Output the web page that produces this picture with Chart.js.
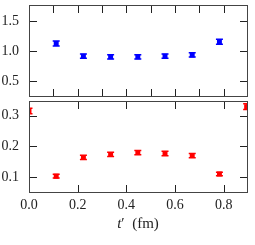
<!DOCTYPE html>
<html>
<head>
<meta charset="utf-8">
<script src="https://cdn.jsdelivr.net/npm/chart.js@4"></script>
<style>
  body { margin: 0; background: #fff; }
  #wrap { position: relative; width: 255px; height: 245px; }
  canvas { position: absolute; left: 0; }
  #xlabel { position: absolute; left: 0; width: 276px; top: 215px; text-align: center;
            font: 15px "Liberation Serif", serif; color: #222; }
</style>
</head>
<body>
<div id="wrap">
  <canvas id="topChart" width="255" height="100" style="top:0"></canvas>
  <canvas id="botChart" width="255" height="123" style="top:97px"></canvas>
  <div id="xlabel"><i>t</i>′&nbsp;&nbsp;(fm)</div>
</div>
<script>
// t' values (fm) for each time slice
var tPrime = [0, 0.1118, 0.2236, 0.3354, 0.4472, 0.559, 0.6708, 0.7826, 0.8944];

var topValues = [null, 1.13, 0.92, 0.91, 0.91, 0.92, 0.94, 1.16, null];
var topErrors = [null, 0.04, 0.035, 0.035, 0.035, 0.035, 0.035, 0.04, null];

var botValues = [0.316, 0.103, 0.164, 0.174, 0.18, 0.177, 0.17, 0.11, 0.33];
var botErrors = [0.009, 0.006, 0.007, 0.007, 0.007, 0.007, 0.007, 0.006, 0.009];

var topXTicks = [0.1, 0.2, 0.3, 0.4, 0.5, 0.6, 0.7, 0.8];
var topYTicks = [0.5, 1.0, 1.5];
var botXTicks = [0.0, 0.2, 0.4, 0.6, 0.8];
var botYTicks = [0.1, 0.2, 0.3];

var font = { family: "Liberation Serif", size: 14 };

function toPoints(values) {
    return tPrime.map((t, i) => ({ x: t, y: values[i] })).filter(p => p.y !== null);
}

// error bars, then box frame with inward ticks, drawn from the chart scales
function framePlugin(xTickVals, yTickVals) {
    var xt = xTickVals.slice(), yt = yTickVals.slice();
    return {
        id: "frame",
        afterDatasetsDraw: (chart) => {
            var ctx = chart.ctx;
            var a = chart.chartArea;
            var xs = chart.scales.x, ys = chart.scales.y;
            ctx.save();
            ctx.beginPath();
            ctx.rect(a.left, a.top, a.right - a.left, a.bottom - a.top);
            ctx.clip();
            chart.data.datasets.forEach((ds) => {
                ctx.strokeStyle = ds.backgroundColor;
                ctx.lineWidth = 1.5;
                ds.data.forEach((p, i) => {
                    var err = ds.errors[i];
                    var px = xs.getPixelForValue(p.x);
                    var y1 = ys.getPixelForValue(p.y - err);
                    var y2 = ys.getPixelForValue(p.y + err);
                    ctx.beginPath();
                    ctx.moveTo(px, y1); ctx.lineTo(px, y2);
                    ctx.moveTo(px - 3.5, y1); ctx.lineTo(px + 3.5, y1);
                    ctx.moveTo(px - 3.5, y2); ctx.lineTo(px + 3.5, y2);
                    ctx.stroke();
                });
            });
            ctx.restore();
        },
        afterDraw: (chart) => {
            var ctx = chart.ctx;
            var a = chart.chartArea;
            var xs = chart.scales.x, ys = chart.scales.y;
            var len = 8;
            var L = Math.round(a.left), T = Math.round(a.top);
            var R = Math.round(a.right), B = Math.round(a.bottom);
            ctx.save();
            ctx.fillStyle = "#222";
            for (var i = 0; i < xt.length; i++) {
                var px = Math.round(xs.getPixelForValue(Number(xt[i])));
                ctx.fillRect(px, T, 1, len);
                ctx.fillRect(px, B - len, 1, len);
            }
            for (var j = 0; j < yt.length; j++) {
                var py = Math.round(ys.getPixelForValue(Number(yt[j])));
                ctx.fillRect(L, py, len, 1);
                ctx.fillRect(R - len, py, len, 1);
            }
            ctx.fillStyle = "#444";
            ctx.fillRect(L, T, R - L, 1);
            ctx.fillRect(L, B - 1, R - L, 1);
            ctx.fillRect(L, T, 1, B - T);
            ctx.fillRect(R - 1, T, 1, B - T);
            ctx.restore();
        }
    };
}

function makeChart(id, values, errors, color, yMin, yMax, xTicks, yTicks, showX, pad, xHeight) {
    return new Chart(document.getElementById(id), {
        type: "scatter",
        data: {
            datasets: [{
                data: toPoints(values),
                errors: errors.filter(e => e !== null),
                backgroundColor: color,
                borderWidth: 0,
                pointStyle: "rect",
                pointRadius: 3.5,
                pointHoverRadius: 3.5
            }]
        },
        options: {
            responsive: false,
            animation: false,
            events: [],
            layout: { padding: pad },
            plugins: {
                legend: { display: false },
                tooltip: { enabled: false }
            },
            scales: {
                x: {
                    min: 0, max: 0.9,
                    grid: { display: false, drawTicks: false },
                    border: { display: false },
                    afterBuildTicks: (s) => { s.ticks = xTicks.map(v => ({ value: v })); },
                    afterFit: (s) => {
                        s.height = xHeight;
                        s.paddingLeft = 0; s.paddingRight = 0;
                    },
                    ticks: {
                        display: showX,
                        font: font,
                        color: "#222",
                        padding: 4,
                        maxRotation: 0,
                        callback: (v) => v.toFixed(1)
                    }
                },
                y: {
                    min: yMin, max: yMax,
                    grid: { display: false, drawTicks: false },
                    border: { display: false },
                    afterBuildTicks: (s) => { s.ticks = yTicks.map(v => ({ value: v })); },
                    afterFit: (s) => {
                        s.width = 29;
                        s.paddingTop = 0; s.paddingBottom = 0;
                    },
                    ticks: {
                        font: font,
                        color: "#222",
                        padding: 10,
                        callback: (v) => v.toFixed(1)
                    }
                }
            }
        },
        plugins: [framePlugin(xTicks, yTicks)]
    });
}

makeChart("topChart", topValues, topErrors, "#0000ff", 0.25, 1.77,
    topXTicks, topYTicks, false, { left: 0, right: 7, top: 5, bottom: 3 }, 0);
makeChart("botChart", botValues, botErrors, "#ff0000", 0.048, 0.35,
    botXTicks, botYTicks, true, { left: 0, right: 7, top: 1, bottom: 0 }, 27);
</script>
</body>
</html>
